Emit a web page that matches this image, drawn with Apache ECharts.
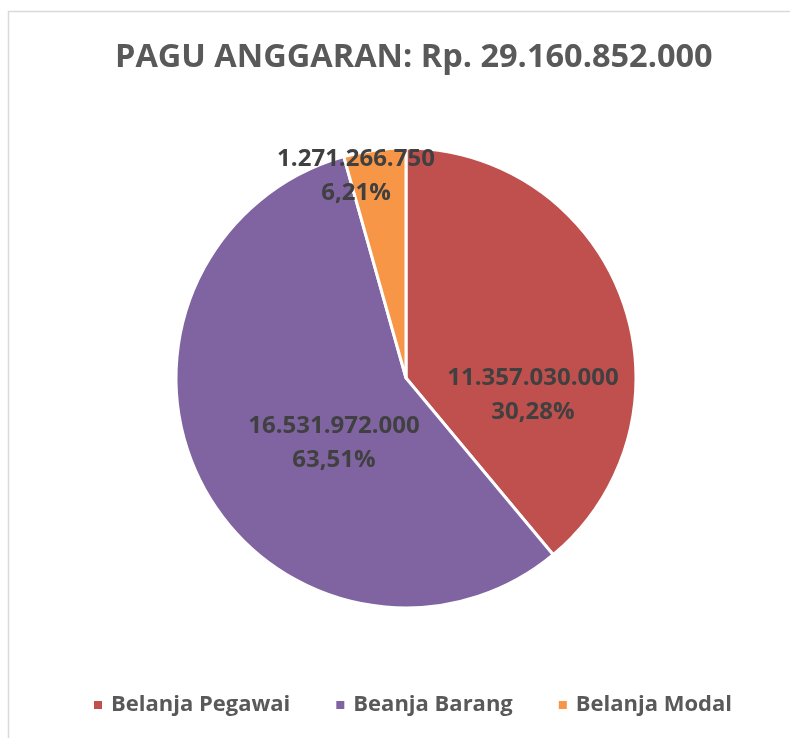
<!DOCTYPE html>
<html>
<head>
<meta charset="utf-8">
<title>Pagu Anggaran</title>
<script src="https://cdn.jsdelivr.net/npm/echarts@6/dist/echarts.min.js"></script>
<style>
  html, body { margin: 0; padding: 0; background: #fff; }
  #chart { width: 790px; height: 738px; }
</style>
</head>
<body>
<div id="chart"></div>
<script>
// data
const categories = ['Belanja Pegawai', 'Beanja Barang', 'Belanja Modal'];
const amounts = [11357030000, 16531972000, 1271266750];
const amountLabels = ['11.357.030.000', '16.531.972.000', '1.271.266.750'];
const percentLabels = ['30,28%', '63,51%', '6,21%'];
const titleText = 'PAGU ANGGARAN: Rp. 29.160.852.000';

// styling
const COLORS = ['#C0504D', '#8064A2', '#F79646'];
const FONT = '"Open Sans", "Noto Sans", sans-serif';
// label centres, in pixels
const LABEL_POS = [[533, 395], [334, 443], [356, 176]];

const chart = echarts.init(document.getElementById('chart'));

chart.setOption({
  animation: false,
  color: COLORS,
  title: {
    text: titleText,
    left: 110,
    top: 36,
    textStyle: { fontFamily: FONT, fontSize: 32.5, fontWeight: 'bold', color: '#595959' }
  },
  legend: {
    bottom: 17,
    left: 87,
    icon: 'rect',
    itemWidth: 10,
    itemHeight: 10,
    itemGap: 44,
    data: categories,
    textStyle: { fontFamily: FONT, fontSize: 22, fontWeight: 'bold', color: '#595959', padding: [0, 0, 0, 3] }
  },
  graphic: [{
    type: 'rect',
    shape: { x: 8.5, y: 11.5, width: 800, height: 760 },
    style: { fill: 'none', stroke: '#d9d9d9', lineWidth: 1.5 },
    silent: true
  }],
  series: [{
    type: 'pie',
    center: [406, 378],
    radius: 230,
    startAngle: 90,
    clockwise: true,
    avoidLabelOverlap: false,
    emphasis: { disabled: true },
    itemStyle: { borderColor: '#fff', borderWidth: 3 },
    label: {
      show: true,
      position: 'inside',
      fontFamily: FONT,
      fontSize: 24,
      fontWeight: 'bold',
      color: '#404040',
      lineHeight: 34,
      formatter: p => amountLabels[p.dataIndex] + '\n' + percentLabels[p.dataIndex]
    },
    labelLine: { show: false },
    labelLayout: p => ({
      x: LABEL_POS[p.dataIndex][0],
      y: LABEL_POS[p.dataIndex][1],
      align: 'center',
      verticalAlign: 'middle'
    }),
    data: categories.map((name, i) => ({ name, value: amounts[i] }))
  }]
});
</script>
</body>
</html>
